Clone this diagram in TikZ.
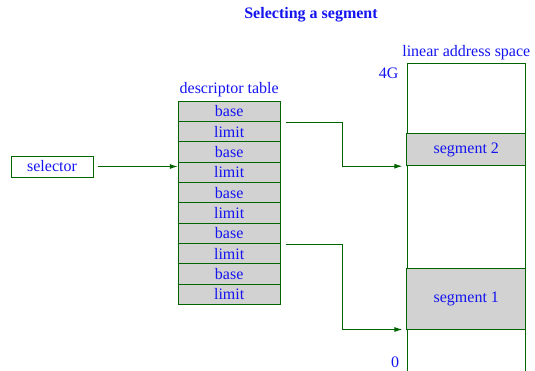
\documentclass[tikz,border=0pt]{standalone}
\usepackage{fontspec}
\setmainfont{Liberation Serif}
\usetikzlibrary{arrows.meta}
\definecolor{linegreen}{RGB}{0,100,0}
\definecolor{textblue}{RGB}{20,20,240}
\definecolor{cellgray}{RGB}{210,210,210}
\tikzset{
  every node/.style={font=\fontsize{16}{19}\selectfont, text=textblue},
  frame/.style={draw=linegreen, line width=1pt},
  cell/.style={frame, fill=cellgray, minimum width=101.7pt, minimum height=20.33pt, inner sep=0pt, anchor=north},
  conn/.style={draw=linegreen, line width=1pt, -{Latex[length=8pt,width=5pt]}},
  caption/.style={inner sep=0pt}
}
\begin{document}
\begin{tikzpicture}[x=1pt,y=-1pt]
\useasboundingbox (0,0) rectangle (535,370);

% title
\node[caption, font=\fontsize{16}{19}\selectfont\bfseries] (title) at (311,15) {Selecting a segment};

% selector register
\node[frame, fill=white, minimum width=82pt, minimum height=21pt, inner sep=0pt] (sel) at (52,166.5) {selector};

% descriptor table
\foreach \i [evaluate=\i as \y using 100.7+(\i-1)*20.33] in {1,...,10} {
  \pgfmathparse{mod(\i,2)==1 ? "base" : "limit"}
  \edef\celltext{\pgfmathresult}
  \node[cell] (r\i) at (229.2,\y) {\celltext};
}
\node[caption] (dtlabel) at (229.2,90) {descriptor table};

% linear address space
\draw[frame] (407,371) -- (407,63.3) -- (525.7,63.3) -- (525.7,371);
\coordinate (lasTop) at (466.3,63.3);
\node[frame, fill=cellgray, minimum width=118.7pt, minimum height=32.4pt, inner sep=0pt] (seg2) at (466.3,149.5) {segment 2};
\node[frame, fill=cellgray, minimum width=118.7pt, minimum height=60.7pt, inner sep=0pt] (seg1) at (466.3,298.65) {segment 1};
\node[caption] (laslabel) at (466.3,53) {linear address space};
\node[caption, anchor=east] (top) at (398.5,73) {4G};
\node[caption] (bottom) at (395,362.5) {0};

% connectors
\draw[conn] ([xshift=4pt]sel.east) -- (sel.east -| r4.west);
\draw[conn] ([xshift=5pt]r1.south east) -- ++(56.7,0) |- ([xshift=-4pt]seg2.south west);
\draw[conn] ([xshift=5pt]r7.south east) -- ++(56.7,0) |- ([xshift=-4pt]seg1.south west);
\end{tikzpicture}
\end{document}
